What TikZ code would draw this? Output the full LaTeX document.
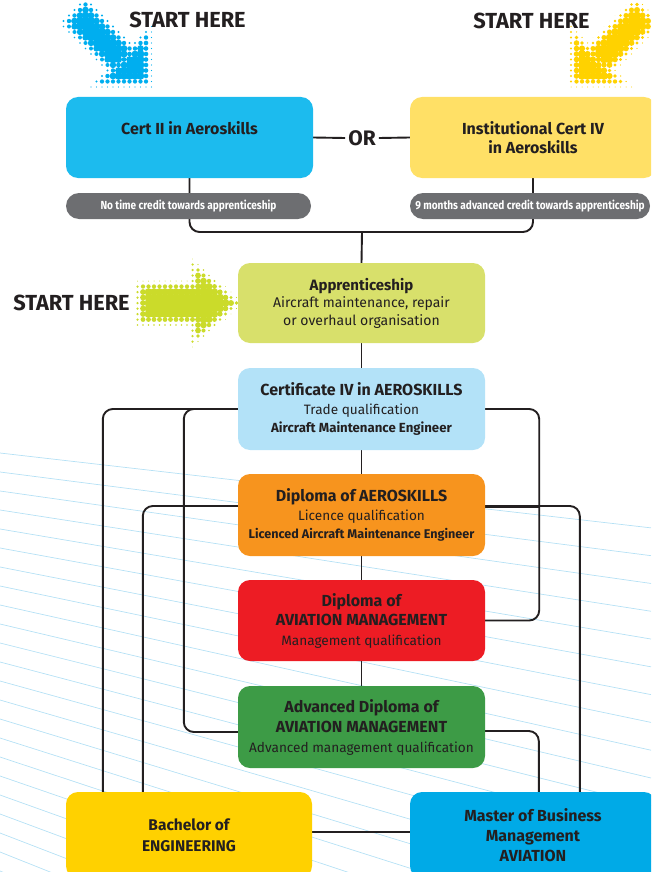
\documentclass[tikz,border=0pt]{standalone}
\usepackage{fontspec}
\setmainfont{Fira Sans}
\newfontfamily\pillfont[FakeStretch=0.86]{Fira Sans}
\usetikzlibrary{calc}
\definecolor{ink}{HTML}{231F20}
\definecolor{c2c}{HTML}{1CBBEE}
\definecolor{instc}{HTML}{FFE066}
\definecolor{pillc}{HTML}{6D6E71}
\definecolor{apc}{HTML}{D8E06B}
\definecolor{cert4c}{HTML}{B3E2F8}
\definecolor{dipac}{HTML}{F7941E}
\definecolor{dipmc}{HTML}{ED1C24}
\definecolor{advc}{HTML}{3D9B46}
\definecolor{bachc}{HTML}{FFD100}
\definecolor{mastc}{HTML}{00AAE7}
\definecolor{arrblue}{HTML}{00AEEF}
\definecolor{arryel}{HTML}{FFD200}
\definecolor{arrlime}{HTML}{CBDB2A}
\definecolor{bgc}{HTML}{B5E1F5}
\newcommand\fT{\bfseries\fontsize{16}{19}\selectfont}
\newcommand\fR{\mdseries\fontsize{13.6}{19}\selectfont}
\newcommand\fB{\bfseries\fontsize{13.2}{19}\selectfont}
\newcommand\halftone[6]{%
 \foreach \gx in {0,...,#4}{\foreach \gy in {0,...,#5}{%
   \pgfmathsetmacro\hx{#2+5.5*\gx}%
   \pgfmathsetmacro\hy{#3+5.5*\gy}%
   \pgfmathsetmacro\hu{(\hx+\hy)*0.70711}%
   \pgfmathsetmacro\hv{(\hx-\hy)*0.70711}%
   \pgfmathsetmacro\hm{721-\hx}%
   \pgfmathsetmacro\hmu{(\hm+\hy)*0.70711}%
   \pgfmathsetmacro\hmv{(\hm-\hy)*0.70711}%
   \pgfmathsetmacro\hd{#6}%
   \pgfmathsetmacro\hr{max(0,min(3.9,2.0-0.3*\hd))}%
   \ifdim\hr pt>0.15pt\relax\fill[#1] (\hx,\hy) circle[radius=\hr pt];\fi}}}
\pgfdeclarelayer{bglines}
\pgfdeclarelayer{conns}
\pgfsetlayers{bglines,conns,main}
\begin{document}
\begin{tikzpicture}[x=1pt,y=-1pt,
  box/.style={rounded corners=12pt, minimum width=247pt, inner sep=0pt, align=center, text=ink},
  conn/.style={draw=ink, line width=1.9pt, rounded corners=10pt},
  pill/.style={rounded corners=13pt, fill=pillc, text=white, minimum height=26pt, inner sep=0pt, font=\pillfont\bfseries\fontsize{11.7}{13}\selectfont},
  starttxt/.style={text=ink, font=\bfseries\fontsize{21.8}{24}\selectfont, inner sep=0pt},
  bgline/.style={draw=bgc, line width=0.7pt}]
\useasboundingbox (0,0) rectangle (651,872);
\clip (0,0) rectangle (651,872);

% background fan of thin lines
\begin{pgfonlayer}{bglines}
\foreach \k in {0,...,22}{\draw[bgline] (0,{453+19*\k}) -- (651,{453+19*\k+651*(0.115+0.0135*\k)});}
\end{pgfonlayer}

% halftone arrows
\halftone{arrblue}{58}{-1}{18}{18}{min(max(63-(\hu),(\hu)-131,30-(\hv),(\hv)-58),max(129-(\hu),((\hu)-129+(\hv)-79)*0.70711,((\hu)-129-(\hv)+13)*0.70711))}
\halftone{arryel}{560}{-1}{18}{18}{min(max(63-(\hmu),(\hmu)-131,30-(\hmv),(\hmv)-58),max(129-(\hmu),((\hmu)-129+(\hmv)-79)*0.70711,((\hmu)-129-(\hmv)+13)*0.70711))}
\halftone{arrlime}{132}{259}{21}{16}{min(max(140-(\hx),(\hx)-205,286-(\hy),(\hy)-321),max(195-(\hx),(((\hx)-195)*35-((\hy)-268)*41)/53.9,(((\hx)-195)*35+((\hy)-338)*41)/53.9))}

% start labels
\node[starttxt] (sh1) at (187.5,19.5) {START HERE};
\node[starttxt] (sh2) at (531.5,20.5) {START HERE};
\node[starttxt] (sh3) at (71.5,302.5) {START HERE};

% boxes
\node[box, fill=c2c, minimum height=81pt, font=\fT] (cert2) at (189.5,137.5) {Cert II in Aeroskills\\\mbox{}};
\node[box, fill=instc, minimum height=81pt, minimum width=246pt, font=\fT] (inst) at (533,137.5) {Institutional Cert IV\\in Aeroskills};
\node[text=ink, font=\bfseries\fontsize{21}{24}\selectfont, inner sep=3pt] (or) at (362,138) {OR};
\node[pill, minimum width=245pt] (p1) at (188.5,206) {No time credit towards apprenticeship};
\node[pill, minimum width=240pt] (p2) at (530,206) {9 months advanced credit towards apprenticeship};

\node[box, fill=apc, minimum height=80pt, font=\fontsize{14}{17.5}\selectfont] (appr) at (361.5,303)
  {{\bfseries\fontsize{15}{17.5}\selectfont Apprenticeship}\\Aircraft maintenance, repair\\or overhaul organisation};
\node[box, fill=cert4c, minimum height=82pt, font=\fontsize{16}{18.5}\selectfont] (cert4) at (361.5,409)
  {{\fT Certificate IV in AEROSKILLS}\\{\fR Trade qualification}\\{\fB Aircraft Maintenance Engineer}};
\node[box, fill=dipac, minimum height=82pt, font=\fontsize{16}{18.5}\selectfont] (dipa) at (361.5,515)
  {{\fT Diploma of AEROSKILLS}\\{\fR Licence qualification}\\{\bfseries\fontsize{12.6}{18}\selectfont Licenced Aircraft Maintenance Engineer}};
\node[box, fill=dipmc, minimum height=81pt, font=\fontsize{16}{19.5}\selectfont] (dipm) at (361.5,620.5)
  {{\fT Diploma of}\\{\fT AVIATION MANAGEMENT}\\{\fR Management qualification}};
\node[box, fill=advc, minimum height=82pt, font=\fontsize{16}{20}\selectfont] (adv) at (361.5,727)
  {{\fT Advanced Diploma of}\\{\fT AVIATION MANAGEMENT}\\{\fR Advanced management qualification}};
\node[box, fill=bachc, minimum height=86pt, minimum width=246pt, font=\bfseries\fontsize{15.5}{21}\selectfont] (bach) at (189,835)
  {Bachelor of\\ENGINEERING};
\node[box, fill=mastc, minimum height=86pt, minimum width=246pt, font=\bfseries\fontsize{16}{20}\selectfont] (mast) at (533,835)
  {Master of Business\\Management\\AVIATION};

% connectors
\begin{pgfonlayer}{conns}
\coordinate (jn) at (362,232);
\draw[conn] (cert2.south) |- (jn) -| (inst.south);
\draw[conn] (jn) -- (appr.north);
\draw[conn] (cert2.east) -- (or.west);
\draw[conn] (or.east) -- (inst.west);
\draw[conn] (appr.south) -- (cert4.north);
\draw[conn] (cert4.south) -- (dipa.north);
\draw[conn] (dipa.south) -- (dipm.north);
\draw[conn] (dipm.south) -- (adv.north);
% left lanes
\draw[conn] (cert4.west) -| ([xshift=37pt]bach.north west);
\draw[conn] (cert4.west) -| ($(adv.west)+(-54,5)$) -- ([yshift=-5pt]adv.west);
\draw[conn] ([yshift=9pt]dipa.west) -| ([xshift=77pt]bach.north west);
% right lanes
\draw[conn] (cert4.east) -| ($(dipm.east)+(54,0)$) -- (dipm.east);
\draw[conn] ([yshift=9pt]dipa.east) -| ([xshift=170pt]mast.north west);
\draw[draw=ink, line width=3pt] ([yshift=9pt]dipa.east) -- ++(54,0);
\draw[conn] ([yshift=-4pt]adv.east) -| ([xshift=129pt]mast.north west);
\draw[conn] ([yshift=3pt]bach.east) -- ([yshift=3pt]mast.west);
\end{pgfonlayer}
\end{tikzpicture}
\end{document}
